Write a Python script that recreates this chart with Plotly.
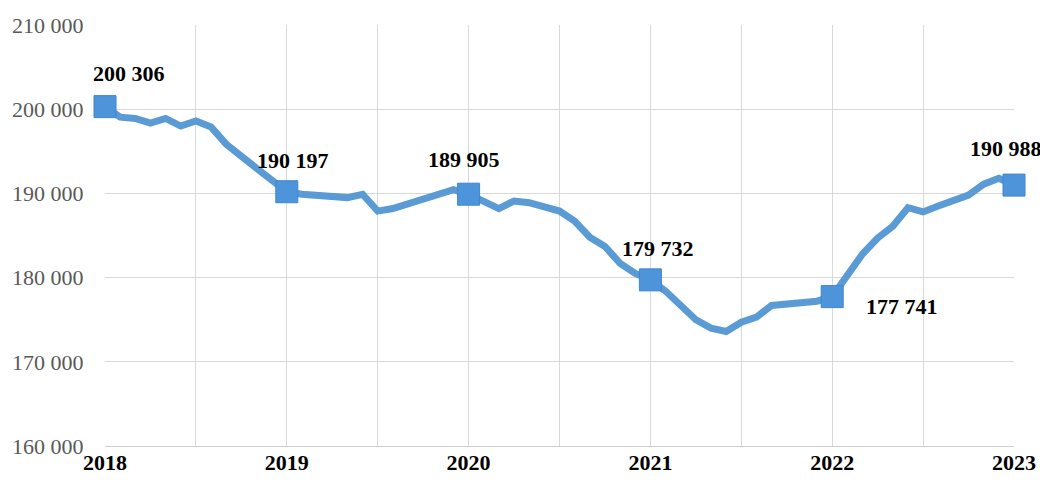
import plotly.graph_objects as go

# Monthly values, Jan 2018 .. Jan 2023 (61 points)
values_2018 = [200306, 199050, 198900, 198350, 198900, 198000, 198600, 197900, 195850, 194300, 193000, 191600]
values_2019 = [190197, 189900, 189800, 189700, 189500, 189900, 187900, 188200, 188800, 189400, 189900, 190450]
values_2020 = [189905, 189000, 188200, 189100, 188900, 188400, 187900, 186700, 184800, 183700, 181700, 180500]
values_2021 = [179732, 178400, 176700, 175000, 174000, 173600, 174700, 175300, 176700, 176800, 176900, 177200]
values_2022 = [177741, 180300, 182800, 184700, 186100, 188300, 187800, 188500, 189200, 189800, 191100, 191800]
values_2023 = [190988]

years = [2018, 2019, 2020, 2021, 2022, 2023]
year_values = [200306, 190197, 189905, 179732, 177741, 190988]
y_ticks = [160000, 170000, 180000, 190000, 200000, 210000]
y_tick_labels = ["160 000", "170 000", "180 000", "190 000", "200 000", "210 000"]
# label offsets (px) for the year-point labels
label_dx = [24, 6, -5, 8, 70, -8]
label_dy = [33, 31, 35, 31, -10, 37]

monthly = values_2018 + values_2019 + values_2020 + values_2021 + values_2022 + values_2023
x_month = [2018 + i / 12 for i in range(len(monthly))]

def fmt(v):
    return f"{v:,}".replace(",", " ")

fig = go.Figure()
fig.add_trace(go.Scatter(
    x=x_month, y=monthly, mode="lines",
    line=dict(color="#5B9BD5", width=7, shape="linear"),
    hoverinfo="skip", showlegend=False, cliponaxis=False,
))
fig.add_trace(go.Scatter(
    x=years, y=year_values, mode="markers",
    marker=dict(symbol="square", size=22, color="#4E94DA",
                line=dict(color="#3F86CF", width=1)),
    showlegend=False, cliponaxis=False,
))

for x, v, dx, dy in zip(years, year_values, label_dx, label_dy):
    fig.add_annotation(
        x=x, y=v, text="<b>" + fmt(v) + "</b>", showarrow=False,
        xshift=dx, yshift=dy,
        font=dict(family="Liberation Serif", size=22, color="#000000"),
        xanchor="center", yanchor="middle",
    )

grid_vals = [2018 + 0.5 * i for i in range(11)]
grid_text = [f"<b>{int(v)}</b>" if v == int(v) else "" for v in grid_vals]

fig.update_layout(
    width=1032, height=469,
    margin=dict(l=97, r=26, t=17, b=31, autoexpand=False),
    paper_bgcolor="white", plot_bgcolor="white",
    xaxis=dict(
        range=[2018, 2023], tickvals=grid_vals, ticktext=grid_text,
        automargin=False,
        showgrid=True, gridcolor="#D9D9D9", gridwidth=1,
        zeroline=False, showline=True, linecolor="#D0D0D0", linewidth=1,
        ticks="", ticklabelstandoff=-3,
        tickfont=dict(family="Liberation Serif", size=22, color="#000000"),
    ),
    yaxis=dict(
        range=[160000, 210000], tickvals=y_ticks, ticktext=y_tick_labels,
        automargin=False,
        showgrid=True, gridcolor="#D9D9D9", gridwidth=1,
        zeroline=False, showline=False,
        ticks="outside", ticklen=16, tickcolor="rgba(0,0,0,0)",
        tickfont=dict(family="Liberation Serif", size=22, color="#595959"),
    ),
)

fig.write_html("out.html")
